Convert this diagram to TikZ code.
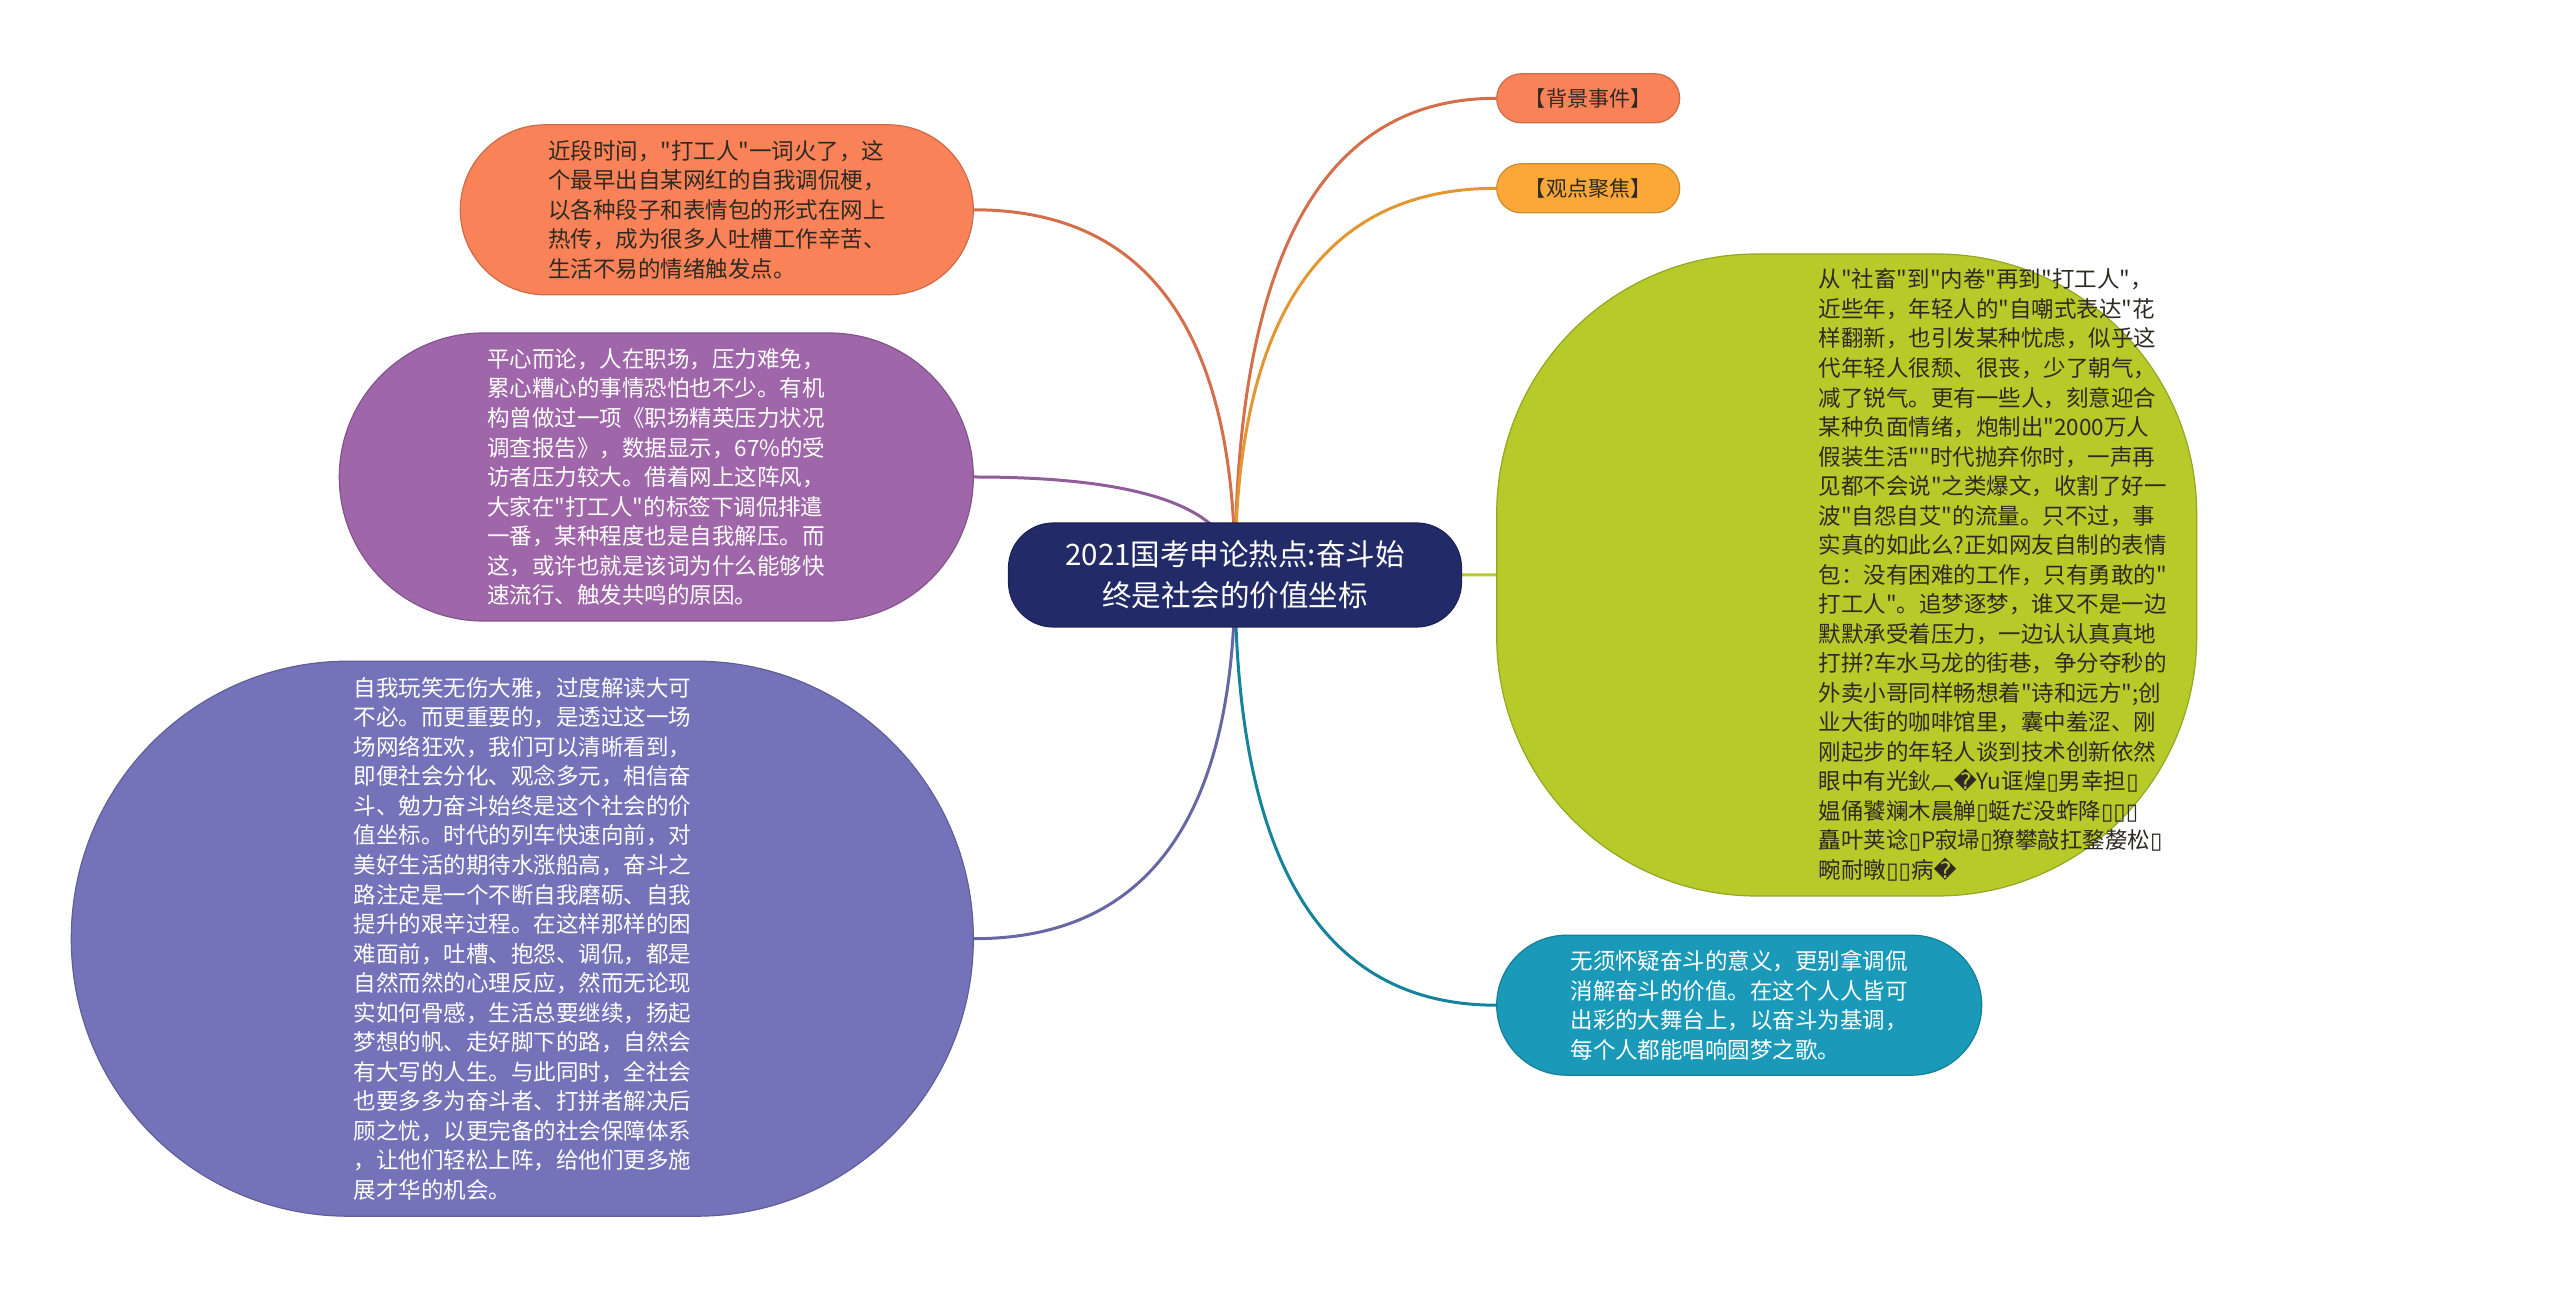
\documentclass[tikz,border=0pt]{standalone}
\usepackage{fontspec}
\setmainfont{Noto Sans CJK SC}[Ligatures=TeXOff]
\newfontfamily\symfont{DejaVu Sans}
\usetikzlibrary{positioning,calc,backgrounds}
\definecolor{RootNavy}{HTML}{222A68}
\definecolor{TagCoral}{HTML}{FA8258}
\definecolor{TagAmber}{HTML}{FBA838}
\definecolor{PlumNode}{HTML}{A066AA}
\definecolor{IrisNode}{HTML}{7473B9}
\definecolor{LimeNode}{HTML}{B6CA2A}
\definecolor{TealNode}{HTML}{1A9AB8}
\definecolor{InkDark}{HTML}{2E2A22}
\newcommand{\tofu}{{\symfont ▯}}
\newcommand{\repl}{{\symfont �}}

\begin{document}
\begin{tikzpicture}[x=0.1mm,y=-0.1mm,
font=\fontsize{6.4pt}{8.4pt}\selectfont,
topic/.style={draw=#1!82!black,fill=#1,line width=0.12mm,align=left,inner sep=0pt},
tagbox/.style={topic=#1,minimum width=18.3mm,minimum height=4.9mm,rounded corners=2.45mm,text=InkDark,font=\fontsize{6pt}{7pt}\selectfont},
branch/.style={draw=#1,line width=0.3mm,
  to path={.. controls ($(\tikztostart)!2/3!(\tikztostart|-\tikztotarget)$) and ($(\tikztotarget)!2/3!(\tikztostart|-\tikztotarget)$) .. (\tikztotarget)}}]
\useasboundingbox (0,0) rectangle (2560,1290);
\node[topic=RootNavy,minimum width=45.3mm,minimum height=10.4mm,rounded corners=4.5mm,text=white,align=center,
  font=\fontsize{8.4pt}{11.7pt}\selectfont] (root) at (1235,575) {2021国考申论热点:奋斗始\\终是社会的价值坐标};
% right side
\node[tagbox=TagCoral,above right=39.9mm and 3.4mm of root] (bgtag) {【背景事件】};
\node[tagbox=TagAmber,above right=30.9mm and 3.4mm of root] (viewtag) {【观点聚焦】};
\node[topic=LimeNode,minimum width=70mm,minimum height=64.2mm,rounded corners=26mm,right=3.4mm of root] (lime) {};
\node[text=InkDark,align=left,inner sep=0pt,anchor=west] (limetext) at ([xshift=32.2mm]lime.west) {从"社畜"到"内卷"再到"打工人"，\\
近些年，年轻人的"自嘲式表达"花\\
样翻新，也引发某种忧虑，似乎这\\
代年轻人很颓、很丧，少了朝气，\\
减了锐气。更有一些人，刻意迎合\\
某种负面情绪，炮制出"2000万人\\
假装生活""时代抛弃你时，一声再\\
见都不会说"之类爆文，收割了好一\\
波"自怨自艾"的流量。只不过，事\\
实真的如此么?正如网友自制的表情\\
包：没有困难的工作，只有勇敢的"\\
打工人"。追梦逐梦，谁又不是一边\\
默默承受着压力，一边认认真真地\\
打拼?车水马龙的街巷，争分夺秒的\\
外卖小哥同样畅想着"诗和远方";创\\
业大街的咖啡馆里，囊中羞涩、刚\\
刚起步的年轻人谈到技术创新依然\\
眼中有光鈥︹\repl Yu诓煌\tofu 男幸担\tofu\\
媪俑饕斓木晨觯\tofu 蜓だ没蚱降\tofu\tofu\tofu\\
矗叶荚谂\tofu P寂埽\tofu 獠攀敲扛鍪嫠松\tofu\\
畹耐暾\tofu\tofu 病\repl};
\node[topic=TealNode,minimum width=48.5mm,minimum height=14mm,rounded corners=7mm,text=white,
  below right=30.7mm and 3.4mm of root] (teal) {无须怀疑奋斗的意义，更别拿调侃\\
消解奋斗的价值。在这个人人皆可\\
出彩的大舞台上，以奋斗为基调，\\
每个人都能唱响圆梦之歌。};
% left side
\node[topic=TagCoral,minimum width=51.3mm,minimum height=17mm,rounded corners=8.5mm,text=InkDark,
  above left=22.7mm and 3.4mm of root] (story) {近段时间，"打工人"一词火了，这\\
个最早出自某网红的自我调侃梗，\\
以各种段子和表情包的形式在网上\\
热传，成为很多人吐槽工作辛苦、\\
生活不易的情绪触发点。};
\node[topic=PlumNode,minimum width=63.4mm,minimum height=28.8mm,rounded corners=14.4mm,text=white,
  left=3.4mm of root,yshift=9.8mm] (plum) {平心而论，人在职场，压力难免，\\
累心糟心的事情恐怕也不少。有机\\
构曾做过一项《职场精英压力状况\\
调查报告》，数据显示，67\%的受\\
访者压力较大。借着网上这阵风，\\
大家在"打工人"的标签下调侃排遣\\
一番，某种程度也是自我解压。而\\
这，或许也就是该词为什么能够快\\
速流行、触发共鸣的原因。};
\node[topic=IrisNode,minimum width=90.2mm,minimum height=55.5mm,rounded corners=27.7mm,text=white,
  below left=3.3mm and 3.4mm of root] (iris) {自我玩笑无伤大雅，过度解读大可\\
不必。而更重要的，是透过这一场\\
场网络狂欢，我们可以清晰看到，\\
即便社会分化、观念多元，相信奋\\
斗、勉力奋斗始终是这个社会的价\\
值坐标。时代的列车快速向前，对\\
美好生活的期待水涨船高，奋斗之\\
路注定是一个不断自我磨砺、自我\\
提升的艰辛过程。在这样那样的困\\
难面前，吐槽、抱怨、调侃，都是\\
自然而然的心理反应，然而无论现\\
实如何骨感，生活总要继续，扬起\\
梦想的帆、走好脚下的路，自然会\\
有大写的人生。与此同时，全社会\\
也要多多为奋斗者、打拼者解决后\\
顾之忧，以更完备的社会保障体系\\
，让他们轻松上阵，给他们更多施\\
展才华的机会。};
% connectors
\begin{scope}[on background layer]
\draw[branch=TagCoral!85!black] (root.center) to (bgtag.west);
\draw[branch=TagAmber!90!black] (root.center) to (viewtag.west);
\draw[branch=LimeNode] (root.center) to (lime.west);
\draw[branch=TealNode!85!black] (root.center) to (teal.west);
\draw[branch=TagCoral!85!black] (root.center) to (story.east);
\draw[branch=PlumNode!90!black] (root.center) to (plum.east);
\draw[branch=IrisNode!90!black] (root.center) to (iris.east);
\end{scope}
\end{tikzpicture}
\end{document}
